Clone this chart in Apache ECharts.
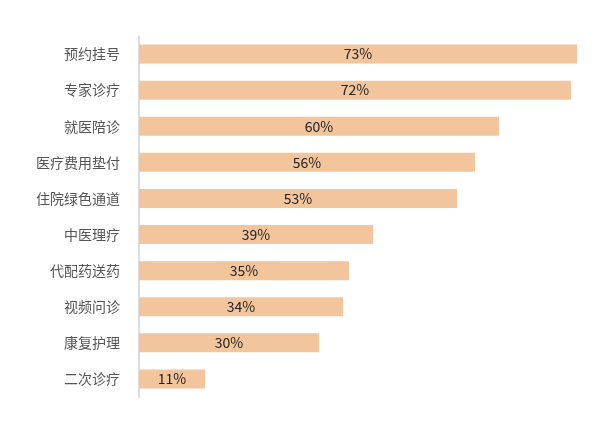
<!DOCTYPE html>
<html>
<head>
<meta charset="utf-8">
<script src="https://cdn.jsdelivr.net/npm/echarts@6/dist/echarts.min.js"></script>
<style>
html, body { margin: 0; padding: 0; background: #fff; }
#chart { width: 616px; height: 437px; }
</style>
</head>
<body>
<div id="chart"></div>
<script>
// 服务项目（从上到下）
const categories = ['预约挂号', '专家诊疗', '就医陪诊', '医疗费用垫付', '住院绿色通道', '中医理疗', '代配药送药', '视频问诊', '康复护理', '二次诊疗']
const values = [73, 72, 60, 56, 53, 39, 35, 34, 30, 11]

const font = '"Noto Sans CJK SC", "Noto Sans", sans-serif'

const chart = echarts.init(document.getElementById('chart'))
chart.setOption({
    animation: false,
    grid: { left: 139, right: 39, top: 36, bottom: 40 },
    xAxis: {
        type: 'value',
        min: 0,
        max: 73,
        show: false,
    },
    yAxis: {
        type: 'category',
        inverse: true,
        data: categories,
        axisLine: { lineStyle: { color: '#dcdcdc', width: 2 } },
        axisTick: { alignWithLabel: true, length: 5, lineStyle: { color: '#dcdcdc', width: 1 } },
        axisLabel: { color: '#555', fontSize: 14, fontFamily: font, margin: 19 },
    },
    series: [{
        type: 'bar',
        data: values,
        barWidth: 19,
        itemStyle: { color: '#f2c59c' },
        label: {
            show: true,
            position: 'inside',
            color: '#222',
            fontSize: 14,
            fontFamily: font,
            formatter: p => p.value + '%',
        },
    }],
})
</script>
</body>
</html>
